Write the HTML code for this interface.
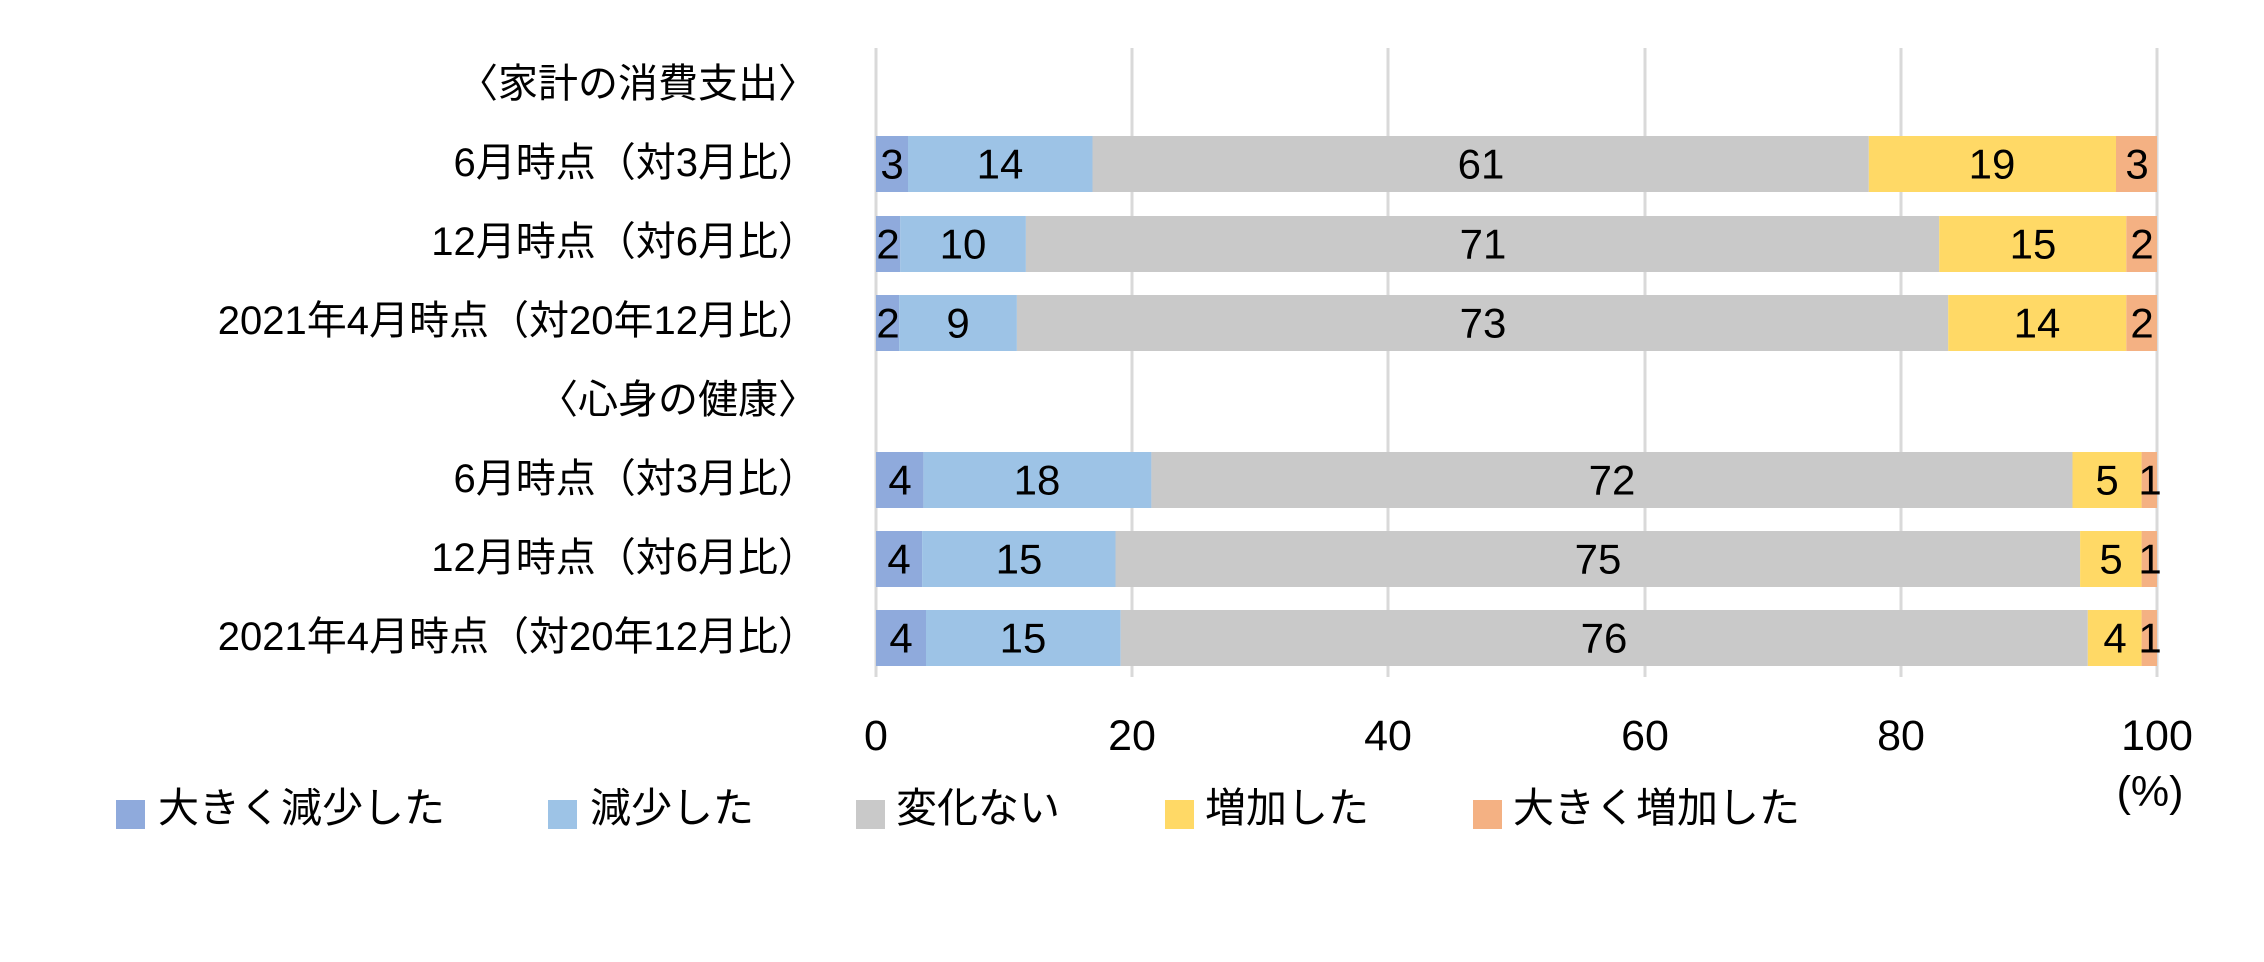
<!DOCTYPE html>
<html><head><meta charset="utf-8"><style>
html,body{margin:0;padding:0;background:#fff;}
svg{display:block;}
text{font-family:"Liberation Sans","Noto Sans CJK JP",sans-serif;fill:#000;}
</style></head><body>
<svg width="2264" height="962" viewBox="0 0 2264 962" xmlns="http://www.w3.org/2000/svg">
<g stroke="#d9d9d9" stroke-width="3">
<line x1="876" y1="48" x2="876" y2="677"/>
<line x1="1132" y1="48" x2="1132" y2="677"/>
<line x1="1388" y1="48" x2="1388" y2="677"/>
<line x1="1645" y1="48" x2="1645" y2="677"/>
<line x1="1901" y1="48" x2="1901" y2="677"/>
<line x1="2157" y1="48" x2="2157" y2="677"/>
</g>
<g>
<rect x="876" y="136" width="32" height="56" fill="#8faadc"/>
<rect x="908" y="136" width="184.5" height="56" fill="#9dc3e6"/>
<rect x="1092.5" y="136" width="776.3" height="56" fill="#c9c9c9"/>
<rect x="1868.8" y="136" width="247.2" height="56" fill="#ffd966"/>
<rect x="2116" y="136" width="41" height="56" fill="#f4b183"/>

<rect x="876" y="216" width="24.3" height="56" fill="#8faadc"/>
<rect x="900.3" y="216" width="125.6" height="56" fill="#9dc3e6"/>
<rect x="1025.9" y="216" width="913.3" height="56" fill="#c9c9c9"/>
<rect x="1939.2" y="216" width="187.1" height="56" fill="#ffd966"/>
<rect x="2126.3" y="216" width="30.7" height="56" fill="#f4b183"/>

<rect x="876" y="295" width="23.1" height="56" fill="#8faadc"/>
<rect x="899.1" y="295" width="117.8" height="56" fill="#9dc3e6"/>
<rect x="1016.9" y="295" width="931.3" height="56" fill="#c9c9c9"/>
<rect x="1948.2" y="295" width="178.1" height="56" fill="#ffd966"/>
<rect x="2126.3" y="295" width="30.7" height="56" fill="#f4b183"/>

<rect x="876" y="452" width="47.4" height="56" fill="#8faadc"/>
<rect x="923.4" y="452" width="228" height="56" fill="#9dc3e6"/>
<rect x="1151.4" y="452" width="921.1" height="56" fill="#c9c9c9"/>
<rect x="2072.5" y="452" width="69.1" height="56" fill="#ffd966"/>
<rect x="2141.6" y="452" width="15.4" height="56" fill="#f4b183"/>

<rect x="876" y="531" width="46.1" height="56" fill="#8faadc"/>
<rect x="922.1" y="531" width="193.4" height="56" fill="#9dc3e6"/>
<rect x="1115.5" y="531" width="964.6" height="56" fill="#c9c9c9"/>
<rect x="2080.1" y="531" width="61.5" height="56" fill="#ffd966"/>
<rect x="2141.6" y="531" width="15.4" height="56" fill="#f4b183"/>

<rect x="876" y="610" width="50" height="56" fill="#8faadc"/>
<rect x="926" y="610" width="194.7" height="56" fill="#9dc3e6"/>
<rect x="1120.7" y="610" width="967.1" height="56" fill="#c9c9c9"/>
<rect x="2087.8" y="610" width="53.8" height="56" fill="#ffd966"/>
<rect x="2141.6" y="610" width="15.4" height="56" fill="#f4b183"/>
</g>
<g font-size="42" text-anchor="middle" dominant-baseline="central">
<text x="892" y="164">3</text><text x="1000" y="164">14</text><text x="1481" y="164">61</text><text x="1992" y="164">19</text><text x="2137" y="164">3</text>
<text x="888" y="244">2</text><text x="963" y="244">10</text><text x="1483" y="244">71</text><text x="2033" y="244">15</text><text x="2142" y="244">2</text>
<text x="888" y="323">2</text><text x="958" y="323">9</text><text x="1483" y="323">73</text><text x="2037" y="323">14</text><text x="2142" y="323">2</text>
<text x="900" y="480">4</text><text x="1037" y="480">18</text><text x="1612" y="480">72</text><text x="2107" y="480">5</text><text x="2150" y="480">1</text>
<text x="899" y="559">4</text><text x="1019" y="559">15</text><text x="1598" y="559">75</text><text x="2111" y="559">5</text><text x="2150" y="559">1</text>
<text x="901" y="638">4</text><text x="1023" y="638">15</text><text x="1604" y="638">76</text><text x="2115" y="638">4</text><text x="2150" y="638">1</text>
</g>
<g font-size="40" text-anchor="end" dominant-baseline="central">
<text x="818" y="84">〈家計の消費支出〉</text>
<text x="818" y="163">6月時点（対3月比）</text>
<text x="818" y="242">12月時点（対6月比）</text>
<text x="818" y="321">2021年4月時点（対20年12月比）</text>
<text x="818" y="400">〈心身の健康〉</text>
<text x="818" y="479">6月時点（対3月比）</text>
<text x="818" y="558">12月時点（対6月比）</text>
<text x="818" y="637">2021年4月時点（対20年12月比）</text>
</g>
<g font-size="43" text-anchor="middle">
<text x="876" y="750">0</text>
<text x="1132" y="750">20</text>
<text x="1388" y="750">40</text>
<text x="1645" y="750">60</text>
<text x="1901" y="750">80</text>
<text x="2157" y="750">100</text>
<text x="2150" y="806">(%)</text>
</g>
<g font-size="41" dominant-baseline="central">
<rect x="116" y="800" width="29" height="29" fill="#8faadc"/><text x="158" y="808">大きく減少した</text>
<rect x="548" y="800" width="29" height="29" fill="#9dc3e6"/><text x="590" y="808">減少した</text>
<rect x="856" y="800" width="29" height="29" fill="#c9c9c9"/><text x="896" y="808">変化ない</text>
<rect x="1165" y="800" width="29" height="29" fill="#ffd966"/><text x="1205" y="808">増加した</text>
<rect x="1473" y="800" width="29" height="29" fill="#f4b183"/><text x="1513" y="808">大きく増加した</text>
</g>
</svg>
</body></html>
